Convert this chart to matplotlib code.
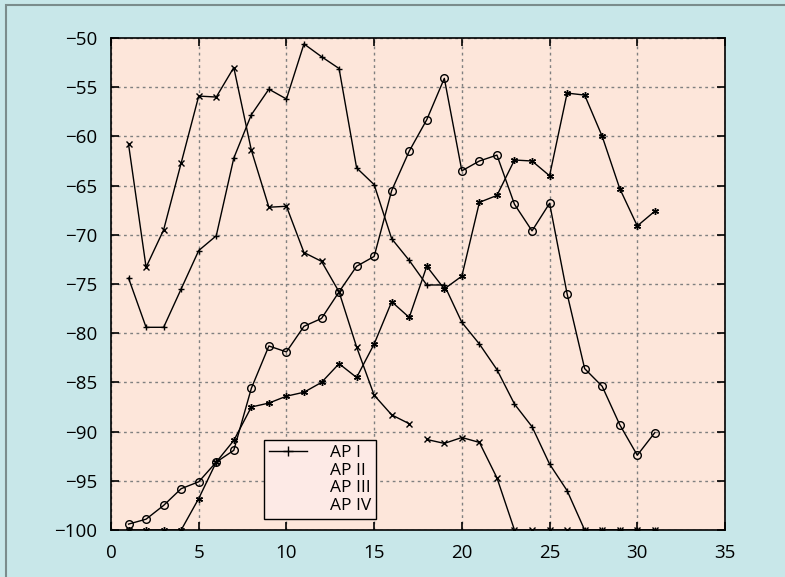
import numpy as np
import matplotlib
matplotlib.use('Agg')
import matplotlib.pyplot as plt
from matplotlib.lines import Line2D
from matplotlib.patches import Rectangle

plt.rcParams['font.family'] = ['Open Sans', 'DejaVu Sans']

x = list(range(1, 32))

ap1 = [-74.4, -79.4, -79.4, -75.5, -71.6, -70.1, -62.2, -57.8, -55.2, -56.2,
       -50.6, -51.9, -53.1, -63.2, -64.9, -70.4, -72.6, -75.1, -75.1, -78.9,
       -81.1, -83.7, -87.2, -89.5, -93.3, -96.0, -100, -100, -100, -100, -100]

# AP II has a break between 17 and 18
ap2 = [-60.8, -73.3, -69.5, -62.7, -55.9, -56.0, -53.0, -61.4, -67.2, -67.1,
       -71.8, -72.7, -75.8, -81.4, -86.3, -88.3, -89.2, -90.8, -91.2, -90.6,
       -91.1, -94.7, -100, -100, -100, -100, -100, -100, -100, -100, -100]
ap2_break = 17

ap3 = [-100, -100, -100, -100, -96.8, -93.1, -90.9, -87.5, -87.1, -86.4,
       -86.0, -85.0, -83.1, -84.5, -81.1, -76.8, -78.4, -73.2, -75.5, -74.2,
       -66.7, -66.0, -62.4, -62.5, -64.0, -55.6, -55.8, -60.0, -65.3, -69.1, -67.6]

ap4 = [-99.4, -98.9, -97.5, -95.8, -95.1, -93.1, -91.9, -85.6, -81.3, -81.9,
       -79.3, -78.5, -75.8, -73.2, -72.2, -65.5, -61.5, -58.3, -54.1, -63.5,
       -62.5, -61.9, -66.9, -69.6, -66.8, -76.0, -83.6, -85.4, -89.3, -92.4, -90.1]

labels = ['AP I', 'AP II', 'AP III', 'AP IV']

fig = plt.figure(figsize=(7.85, 5.77), dpi=100, facecolor='#c8e7e9')
ax = fig.add_axes([111/785, 1-530/577, 614/785, 492/577])
ax.set_facecolor('#fde6da')

# outer frame
fig.patches.append(Rectangle((6/785, -0.01), 1.0, 1-5/577+0.01, transform=fig.transFigure,
                             fill=False, edgecolor='#7b8c8c', linewidth=1.5))

kw = dict(color='black', linewidth=1.0, markersize=5, markeredgewidth=1.0)
ax.plot(x, ap1, marker='+', **kw)
ax.plot(x[:ap2_break], ap2[:ap2_break], marker='x', markersize=4, color='black', linewidth=1.0)
ax.plot(x[ap2_break:], ap2[ap2_break:], marker='x', markersize=4, color='black', linewidth=1.0)
ax.plot(x, ap3, marker=(6, 2, 0), **kw)
ax.plot(x, ap4, marker='o', markerfacecolor='none', markersize=5.5, color='black', linewidth=1.0)

ax.set_xlim(0, 35)
ax.set_ylim(-100, -50)
ax.set_xticks(range(0, 36, 5))
ax.set_yticks(range(-100, -49, 5))
ax.grid(True, color='#808080', linestyle=(0, (2, 2.5)), linewidth=1.0)
ax.tick_params(direction='in', top=True, right=True, length=6, width=1.2,
               labelsize=13.5, pad=10)
for s in ax.spines.values():
    s.set_linewidth(1.2)

handles = [Line2D([], [], color='black', marker='+', markersize=7, linewidth=1.0)]
handles += [Line2D([], [], linestyle='none', marker='none') for _ in range(3)]
leg = ax.legend(handles, labels, loc='lower left', bbox_to_anchor=(0.249, 0.022),
                fontsize=12.5, frameon=True, fancybox=False, handlelength=2.2,
                handletextpad=1.3, labelspacing=0.08, borderpad=0.3, borderaxespad=0,
                markerfirst=True)
leg.get_frame().set_facecolor('#fdeae6')
leg.get_frame().set_edgecolor('black')
leg.get_frame().set_alpha(1)
leg.get_frame().set_linewidth(1.0)

fig.savefig('out.png', dpi=100, facecolor=fig.get_facecolor())
